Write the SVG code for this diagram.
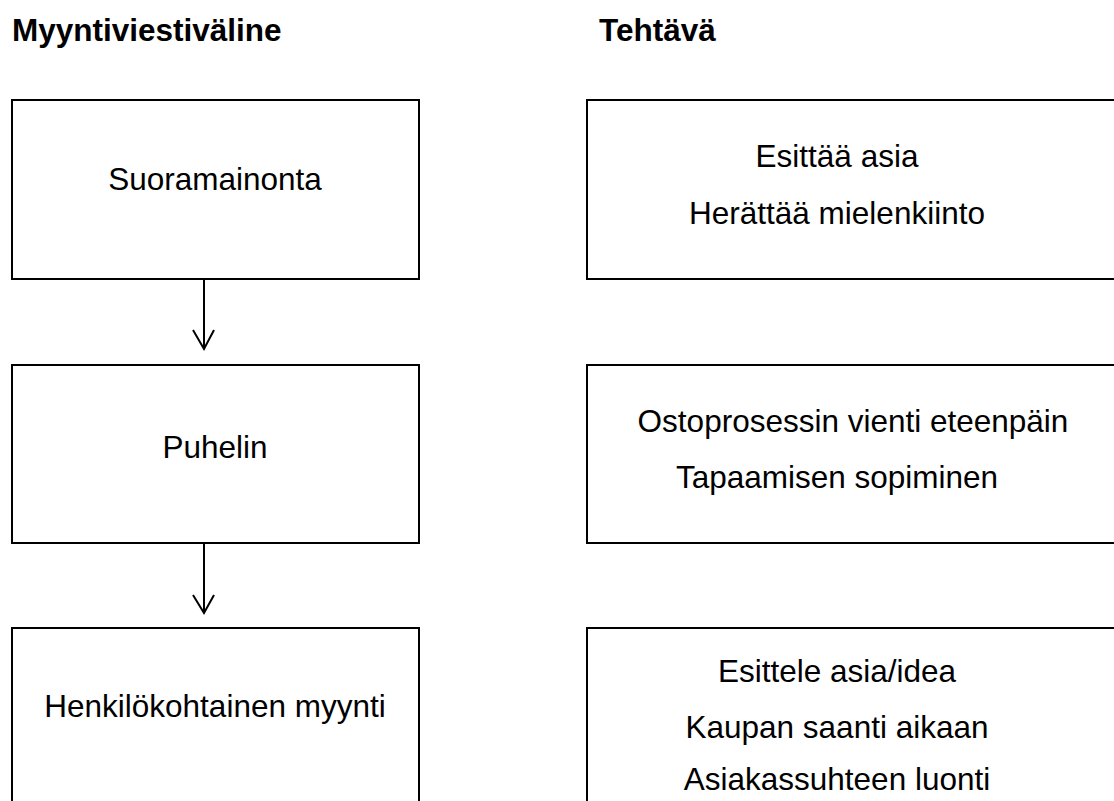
<svg xmlns="http://www.w3.org/2000/svg" width="1114" height="801" viewBox="0 0 1114 801">
<style>
.box{fill:#fff;stroke:#000;stroke-width:2}
.t{font-family:"Liberation Sans",Arial,sans-serif;font-size:31.5px;fill:#000;text-anchor:middle}
.h{font-family:"Liberation Sans",Arial,sans-serif;font-size:31.5px;font-weight:bold;fill:#000}
.c{fill:none;stroke:#000;stroke-width:2}
</style>
<rect width="1114" height="801" fill="#fff"/>
<g id="headers">
<text class="h" x="12" y="41">Myyntiviestiväline</text>
<text class="h" x="599" y="41">Tehtävä</text>
</g>
<g id="suoramainonta">
<rect class="box" x="12" y="100" width="407" height="179"/>
<text class="t" x="215" y="190">Suoramainonta</text>
</g>
<g id="puhelin">
<rect class="box" x="12" y="365" width="407" height="178"/>
<text class="t" x="215" y="458">Puhelin</text>
</g>
<g id="henkilokohtainen">
<rect class="box" x="12" y="628" width="407" height="190"/>
<text class="t" x="215" y="717">Henkilökohtainen myynti</text>
</g>
<g id="tehtava1">
<rect class="box" x="587" y="100" width="540" height="179"/>
<text class="t" x="837" y="167">Esittää asia</text>
<text class="t" x="837" y="224">Herättää mielenkiinto</text>
</g>
<g id="tehtava2">
<rect class="box" x="587" y="365" width="540" height="178"/>
<text class="t" x="853" y="432">Ostoprosessin vienti eteenpäin</text>
<text class="t" x="837" y="488">Tapaamisen sopiminen</text>
</g>
<g id="tehtava3">
<rect class="box" x="587" y="628" width="540" height="190"/>
<text class="t" x="837" y="682">Esittele asia/idea</text>
<text class="t" x="837" y="738">Kaupan saanti aikaan</text>
<text class="t" x="837" y="790">Asiakassuhteen luonti</text>
</g>
<g id="connectors">
<path class="c" d="M204 279V349M193 330L204 349L214 330"/>
<path class="c" d="M204 543V613M193 595L204 613L214 595"/>
</g>
</svg>
